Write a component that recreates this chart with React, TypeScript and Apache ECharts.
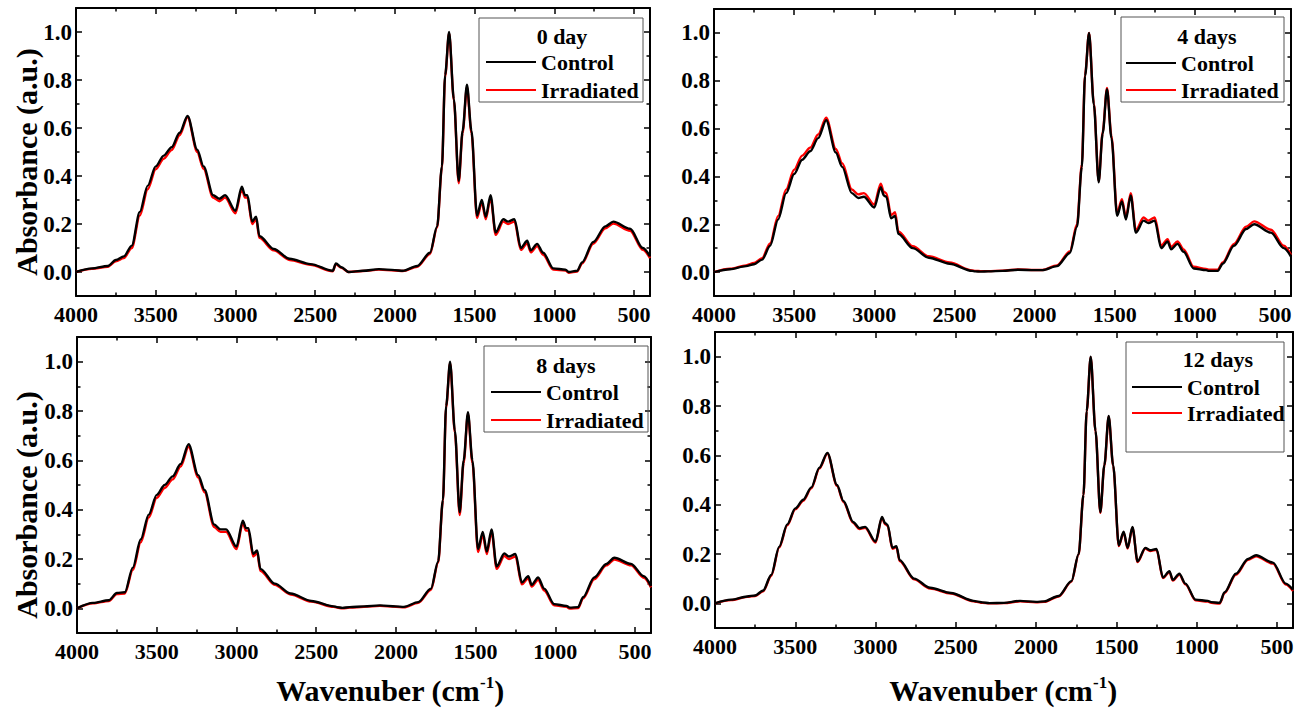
import React, { useEffect, useRef } from "react";
import * as echarts from "echarts";

// Wavenumber grid (cm^-1), descending
const WN = [4000, 3900, 3800, 3750, 3700, 3650, 3600, 3550, 3500, 3450, 3400, 3350, 3300, 3240, 3200, 3140, 3100, 3065, 3000, 2960, 2940, 2925, 2895, 2870, 2850, 2760, 2660, 2530, 2390, 2370, 2335, 2290, 2200, 2100, 2000, 1950, 1860, 1780, 1735, 1705, 1685, 1660, 1630, 1600, 1575, 1548, 1520, 1485, 1455, 1430, 1400, 1368, 1320, 1290, 1250, 1210, 1170, 1148, 1108, 1070, 1007, 930, 910, 857, 826, 756, 680, 630, 525, 445, 400];

// 0 day
const C0 = [0.000,0.015,0.025,0.050,0.065,0.110,0.250,0.360,0.440,0.485, 0.520,0.580,0.650,0.510,0.440,0.320,0.305,0.320,0.255,0.355, 0.320,0.320,0.210,0.230,0.150,0.096,0.055,0.033,0.005,0.036, 0.020,0.000,0.005,0.012,0.008,0.005,0.025,0.080,0.190,0.440, 0.820,1.000,0.720,0.380,0.590,0.780,0.590,0.235,0.300,0.230, 0.320,0.165,0.220,0.210,0.220,0.100,0.130,0.090,0.117,0.080, 0.015,0.010,0.000,0.005,0.040,0.125,0.190,0.210,0.180,0.100,0.065];
const I0 = [0.000,0.013,0.022,0.045,0.058,0.100,0.235,0.345,0.428,0.472, 0.508,0.570,0.645,0.500,0.430,0.310,0.295,0.310,0.245,0.345, 0.310,0.310,0.200,0.220,0.142,0.090,0.050,0.030,0.003,0.032, 0.017,0.000,0.004,0.010,0.006,0.004,0.022,0.075,0.185,0.435, 0.815,0.995,0.715,0.370,0.580,0.770,0.580,0.225,0.290,0.220, 0.310,0.155,0.210,0.200,0.210,0.092,0.120,0.082,0.108,0.072, 0.010,0.006,-0.003,0.002,0.035,0.118,0.182,0.202,0.172,0.092,0.058];
// 4 days
const C4 = [0.000,0.012,0.025,0.033,0.052,0.110,0.220,0.330,0.410,0.470, 0.505,0.560,0.635,0.500,0.440,0.330,0.310,0.315,0.270,0.355, 0.320,0.315,0.225,0.235,0.160,0.100,0.060,0.035,0.005,0.003, 0.002,0.003,0.005,0.010,0.008,0.008,0.025,0.080,0.190,0.440, 0.820,1.000,0.700,0.375,0.580,0.765,0.560,0.235,0.295,0.220, 0.320,0.165,0.215,0.205,0.215,0.100,0.128,0.095,0.118,0.085, 0.015,0.008,0.005,0.005,0.035,0.110,0.180,0.200,0.165,0.100,0.065];
const I4 = [0.000,0.014,0.028,0.038,0.058,0.120,0.235,0.345,0.428,0.487, 0.520,0.575,0.645,0.515,0.455,0.345,0.325,0.330,0.282,0.370, 0.335,0.330,0.238,0.250,0.170,0.108,0.066,0.040,0.007,0.005, 0.004,0.004,0.006,0.011,0.009,0.009,0.028,0.086,0.200,0.450, 0.825,1.000,0.705,0.380,0.585,0.770,0.568,0.245,0.305,0.230, 0.330,0.175,0.228,0.215,0.228,0.110,0.138,0.105,0.128,0.095, 0.022,0.013,0.010,0.010,0.040,0.118,0.190,0.212,0.177,0.110,0.072];
// 8 days
const C8 = [0.000,0.022,0.033,0.062,0.065,0.165,0.280,0.380,0.460,0.500, 0.535,0.585,0.665,0.540,0.480,0.340,0.320,0.320,0.250,0.355, 0.325,0.325,0.220,0.235,0.160,0.100,0.060,0.030,0.008,0.005, 0.002,0.005,0.008,0.012,0.008,0.006,0.025,0.080,0.190,0.440, 0.820,1.000,0.720,0.390,0.600,0.795,0.600,0.240,0.310,0.230, 0.320,0.170,0.222,0.210,0.220,0.105,0.130,0.095,0.125,0.080, 0.017,0.010,0.003,0.005,0.045,0.125,0.180,0.205,0.180,0.130,0.090];
const I8 = [0.000,0.020,0.030,0.058,0.060,0.155,0.268,0.368,0.448,0.488, 0.523,0.575,0.655,0.530,0.470,0.330,0.310,0.310,0.240,0.345, 0.315,0.315,0.210,0.225,0.152,0.095,0.056,0.027,0.006,0.003, 0.000,0.003,0.006,0.010,0.006,0.004,0.022,0.075,0.185,0.435, 0.815,0.995,0.712,0.378,0.590,0.788,0.590,0.228,0.298,0.220, 0.310,0.160,0.212,0.200,0.210,0.097,0.122,0.088,0.116,0.072, 0.012,0.006,-0.001,0.001,0.040,0.118,0.174,0.198,0.174,0.124,0.085];
// 12 days
const C12 = [0.000,0.015,0.028,0.032,0.052,0.115,0.230,0.320,0.385,0.420, 0.470,0.550,0.610,0.480,0.415,0.330,0.305,0.310,0.250,0.350, 0.325,0.318,0.225,0.232,0.175,0.100,0.063,0.042,0.010,0.008, 0.004,0.001,0.002,0.010,0.006,0.008,0.030,0.090,0.200,0.440, 0.780,1.000,0.700,0.370,0.560,0.760,0.560,0.235,0.290,0.225, 0.310,0.170,0.225,0.215,0.220,0.105,0.130,0.095,0.120,0.080, 0.015,0.010,0.005,0.002,0.045,0.120,0.180,0.195,0.165,0.080,0.055];
const I12 = [0.000,0.013,0.026,0.030,0.049,0.111,0.226,0.316,0.381,0.416, 0.466,0.546,0.607,0.476,0.411,0.326,0.301,0.306,0.246,0.346, 0.321,0.314,0.221,0.228,0.171,0.097,0.060,0.040,0.008,0.006, 0.002,0.000,0.001,0.008,0.004,0.006,0.028,0.088,0.198,0.438, 0.778,0.998,0.697,0.367,0.557,0.757,0.557,0.232,0.287,0.222, 0.307,0.167,0.222,0.212,0.217,0.102,0.127,0.092,0.117,0.077, 0.012,0.007,0.002,-0.001,0.042,0.116,0.176,0.191,0.161,0.076,0.050];

const TITLES = ["0 day", "4 days", "8 days", "12 days"];
const CONTROL = [C0, C4, C8, C12];
const IRRAD = [I0, I4, I8, I12];

const X_MAJOR = [4000, 3500, 3000, 2500, 2000, 1500, 1000, 500];
const X_MINOR = [3750, 3250, 2750, 2250, 1750, 1250, 750];
const Y_MAJOR = [0, 0.2, 0.4, 0.6, 0.8, 1.0];
const Y_MINOR = [0.1, 0.3, 0.5, 0.7, 0.9];

const FONT = "Liberation Serif";
const LEG_FS = 22;

// layout (pixels)
const GRIDS = [
  { left: 76, top: 8, width: 574, height: 288 },
  { left: 714, top: 9, width: 577, height: 287 },
  { left: 77, top: 337, width: 574, height: 296 },
  { left: 715, top: 332, width: 578, height: 296 },
];
const LEG = [
  { bx: 479, by: 18, bw: 164, bh: 84, tx: 562, ty: 36, lx: 485, ly: 62, pitch: 28 },
  { bx: 1121, by: 17, bw: 163, bh: 85, tx: 1207, ty: 36, lx: 1125, ly: 63, pitch: 27 },
  { bx: 484, by: 346, bw: 164, bh: 86, tx: 566, ty: 365, lx: 490, ly: 392, pitch: 28 },
  { bx: 1126, by: 342, bw: 158, bh: 110, tx: 1218, ty: 359, lx: 1131, ly: 387, pitch: 26 },
];

function buildOption() {
  const xAxis: any[] = [];
  const yAxis: any[] = [];
  const series: any[] = [];
  const legend: any[] = [];
  const graphic: any[] = [];

  GRIDS.forEach((_, g) => {
    const xDefs = [
      { pos: "bottom", vals: X_MAJOR, len: 6, label: true, line: true },
      { pos: "bottom", vals: X_MINOR, len: 3.5, label: false, line: false },
      { pos: "top", vals: X_MAJOR, len: 6, label: false, line: true },
      { pos: "top", vals: X_MINOR, len: 3.5, label: false, line: false },
    ];
    xDefs.forEach((d) => {
      xAxis.push({
        type: "value",
        gridIndex: g,
        position: d.pos,
        min: 400,
        max: 4000,
        inverse: true,
        splitLine: { show: false },
        axisLine: { show: d.line, onZero: false, lineStyle: { color: "#000", width: 2 } },
        axisTick: { show: true, inside: true, length: d.len, customValues: d.vals, lineStyle: { color: "#000", width: 1.5 } },
        axisLabel: {
          show: d.label,
          customValues: d.vals,
          margin: 7,
          formatter: (v: number) => String(v),
          color: "#000",
          fontFamily: FONT,
          fontWeight: "bold",
          fontSize: 22,
        },
      });
    });
    const yDefs = [
      { pos: "left", vals: Y_MAJOR, len: 6, label: true, line: true },
      { pos: "left", vals: Y_MINOR, len: 3.5, label: false, line: false },
      { pos: "right", vals: Y_MAJOR, len: 6, label: false, line: true },
      { pos: "right", vals: Y_MINOR, len: 3.5, label: false, line: false },
    ];
    yDefs.forEach((d) => {
      yAxis.push({
        type: "value",
        gridIndex: g,
        position: d.pos,
        min: -0.1,
        max: 1.1,
        splitLine: { show: false },
        axisLine: { show: d.line, onZero: false, lineStyle: { color: "#000", width: 2 } },
        axisTick: { show: true, inside: true, length: d.len, customValues: d.vals, lineStyle: { color: "#000", width: 1.5 } },
        axisLabel: {
          show: d.label,
          customValues: d.vals,
          margin: 4,
          formatter: (v: number) => v.toFixed(1),
          color: "#000",
          fontFamily: FONT,
          fontWeight: "bold",
          fontSize: 23,
        },
      });
    });

    const common = {
      type: "line",
      xAxisIndex: g * 4,
      yAxisIndex: g * 4,
      symbol: "none",
      showSymbol: false,
      smooth: 0.3,
      smoothMonotone: "x",
    };
    series.push({
      ...common,
      name: "Irradiated",
      data: WN.map((w, i) => [w, IRRAD[g][i]]),
      lineStyle: { color: "#ff0000", width: 2.4 },
      itemStyle: { color: "#ff0000" },
      z: 2,
    });
    series.push({
      ...common,
      name: "Control",
      data: WN.map((w, i) => [w, CONTROL[g][i]]),
      lineStyle: { color: "#000000", width: 2.4 },
      itemStyle: { color: "#000000" },
      z: 3,
    });

    const L = LEG[g];
    legend.push({
      data: ["Control", "Irradiated"],
      orient: "vertical",
      left: L.lx,
      top: L.ly - LEG_FS / 2,
      padding: 0,
      itemWidth: 50,
      itemHeight: 14,
      itemGap: L.pitch - LEG_FS,
      selectedMode: false,
      itemStyle: { opacity: 0 },
      textStyle: { fontFamily: FONT, fontWeight: "bold", fontSize: LEG_FS, color: "#000" },
    });
    graphic.push({
      type: "rect",
      shape: { x: L.bx, y: L.by, width: L.bw, height: L.bh },
      style: { fill: "none", stroke: "#555", lineWidth: 1 },
      z: 1,
    });
    graphic.push({
      type: "text",
      x: L.tx,
      y: L.ty,
      style: {
        text: TITLES[g],
        fontFamily: FONT,
        fontWeight: "bold",
        fontSize: 22,
        fill: "#000",
        align: "center",
        verticalAlign: "middle",
      },
    });
  });

  // axis titles
  [162, 505].forEach((cy) => {
    graphic.push({
      type: "text",
      x: 26,
      y: cy,
      rotation: Math.PI / 2,
      style: {
        text: "Absorbance (a.u.)",
        fontFamily: FONT,
        fontWeight: "bold",
        fontSize: 30,
        fill: "#000",
        align: "center",
        verticalAlign: "middle",
      },
    });
  });
  [390, 1003].forEach((cx) => {
    graphic.push({
      type: "text",
      x: cx,
      y: 690,
      style: {
        text: "{a|Wavenuber (cm}{s|-1}{a|)}",
        fill: "#000",
        align: "center",
        verticalAlign: "middle",
        rich: {
          a: { fontFamily: FONT, fontWeight: "bold", fontSize: 30, fill: "#000" },
          s: { fontFamily: FONT, fontWeight: "bold", fontSize: 17, fill: "#000", padding: [0, 0, 16, 0] },
        },
      },
    });
  });

  return {
    animation: false,
    backgroundColor: "#fff",
    textStyle: { fontFamily: FONT },
    grid: GRIDS.map((r) => ({ ...r, containLabel: false })),
    xAxis,
    yAxis,
    series,
    legend,
    graphic,
  };
}

export default function App() {
  const ref = useRef<HTMLDivElement>(null);
  useEffect(() => {
    if (!ref.current) return;
    const chart = echarts.init(ref.current, undefined, { renderer: "svg" });
    chart.setOption(buildOption() as any);
    return () => chart.dispose();
  }, []);
  return (
    <div
      ref={ref}
      style={{ position: "absolute", left: 0, top: 0, width: 1298, height: 709, background: "#fff" }}
    />
  );
}
